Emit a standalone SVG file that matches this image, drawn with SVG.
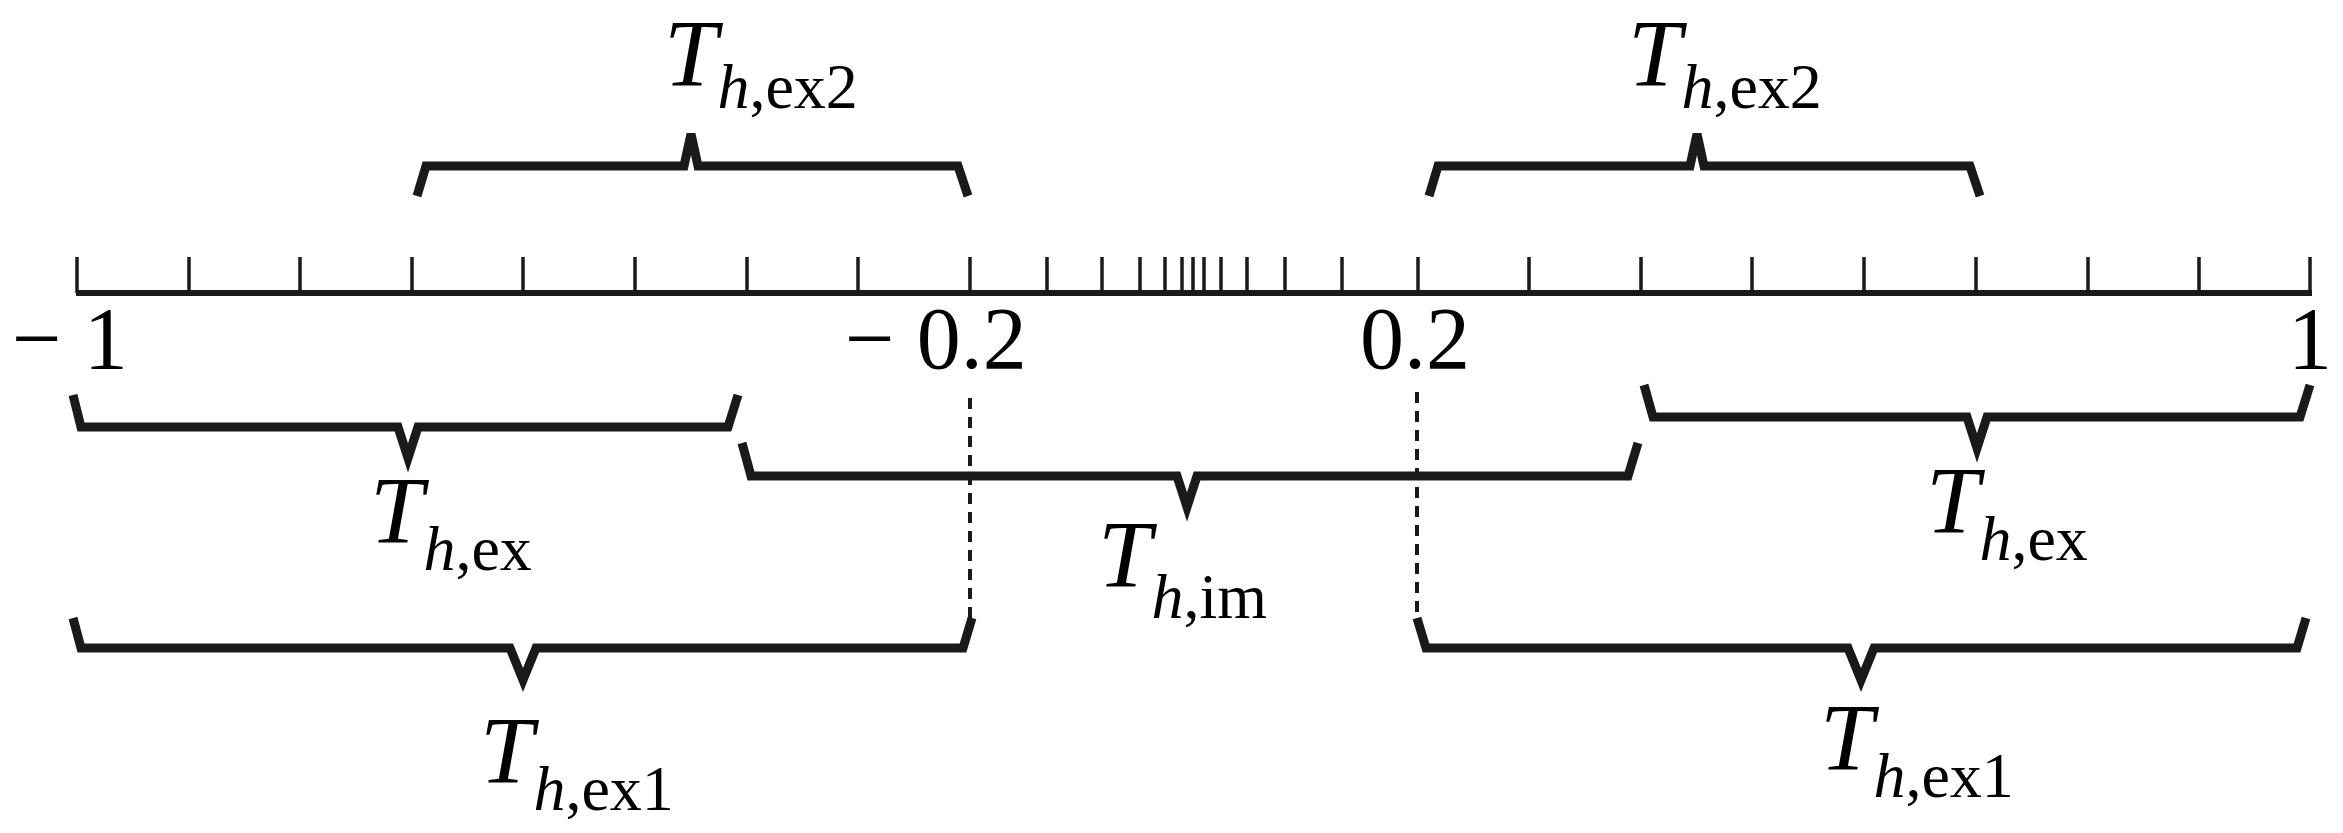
<svg xmlns="http://www.w3.org/2000/svg" width="2343" height="833" viewBox="0 0 2343 833">
<style>
.ax{stroke:#1a1a1a;fill:none}
.br{stroke:#1a1a1a;stroke-width:9;fill:none;stroke-linejoin:miter}
.dash{stroke:#1a1a1a;stroke-width:4;stroke-dasharray:11 8;fill:none}
text{font-family:"Liberation Serif","DejaVu Serif",serif;fill:#000}
.num{font-size:88px}
.T{font-size:96px;font-style:italic}
.s{font-size:64px}
.i{font-style:italic}
</style>
<g id="axis">
<line class="ax" x1="76" y1="293" x2="2312" y2="293" stroke-width="6"/>
<path class="ax" stroke-width="3.5" d="M77,293V257 M189,293V257 M300,293V257 M412,293V257 M523,293V257 M635,293V257 M747,293V257 M858,293V257 M970,293V257 M1047,293V257 M1102,293V257 M1140,293V257 M1165,293V257 M1182,293V257 M1193,293V257 M1204,293V257 M1221,293V257 M1247,293V257 M1285,293V257 M1342,293V257 M1418,293V257 M1529,293V257 M1641,293V257 M1752,293V257 M1864,293V257 M1976,293V257 M2088,293V257 M2199,293V257 M2310,293V257"/>
<text class="num" x="12" y="368">− 1</text>
<text class="num" x="845" y="368">− 0.2</text>
<text class="num" x="1360" y="368">0.2</text>
<text class="num" x="2288" y="368">1</text>
</g>
<g id="connectors">
<line class="dash" x1="970" y1="398" x2="970" y2="618"/>
<line class="dash" x1="1417" y1="392" x2="1417" y2="618"/>
</g>
<g id="ex2-left">
<path class="br" d="M417,196 L426,166 H684 L691,134 L698,166 H958 L968,196"/>
<text x="664" y="86"><tspan class="T">T</tspan><tspan class="s" dy="22"><tspan class="i">h</tspan>,ex2</tspan></text>
</g>
<g id="ex2-right">
<path class="br" d="M1429,196 L1438,166 H1690 L1697,134 L1704,166 H1970 L1980,196"/>
<text x="1628" y="86"><tspan class="T">T</tspan><tspan class="s" dy="22"><tspan class="i">h</tspan>,ex2</tspan></text>
</g>
<g id="ex-left">
<path class="br" d="M73,395 L81,427 H398 L408,458 L418,427 H728 L738,395"/>
<text x="370" y="543"><tspan class="T">T</tspan><tspan class="s" dy="27"><tspan class="i">h</tspan>,ex</tspan></text>
</g>
<g id="im">
<path class="br" d="M742,443 L751,476 H1177 L1187,507 L1197,476 H1628 L1638,443"/>
<text x="1098" y="587"><tspan class="T">T</tspan><tspan class="s" dy="31"><tspan class="i">h</tspan>,im</tspan></text>
</g>
<g id="ex-right">
<path class="br" d="M1644,385 L1653,417 H1967 L1977,448 L1987,417 H2300 L2310,385"/>
<text x="1926" y="533"><tspan class="T">T</tspan><tspan class="s" dy="27"><tspan class="i">h</tspan>,ex</tspan></text>
</g>
<g id="ex1-left">
<path class="br" d="M73,618 L81,648 H510 L523,680 L536,648 H963 L972,618"/>
<text x="480" y="783"><tspan class="T">T</tspan><tspan class="s" dy="27"><tspan class="i">h</tspan>,ex1</tspan></text>
</g>
<g id="ex1-right">
<path class="br" d="M1417,618 L1426,648 H1848 L1861,680 L1874,648 H2297 L2306,618"/>
<text x="1820" y="770"><tspan class="T">T</tspan><tspan class="s" dy="27"><tspan class="i">h</tspan>,ex1</tspan></text>
</g>
</svg>
